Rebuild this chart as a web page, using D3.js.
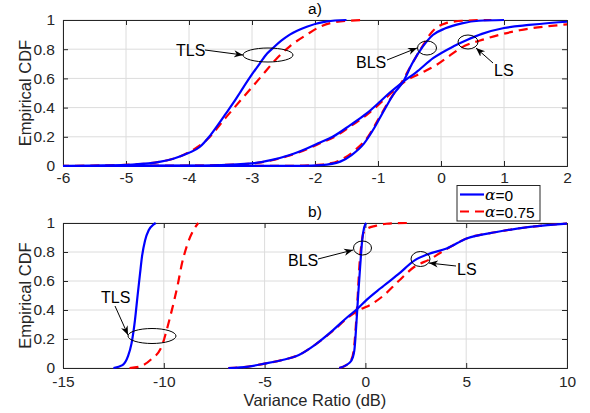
<!DOCTYPE html>
<html><head><meta charset="utf-8">
<script src="https://cdn.jsdelivr.net/npm/d3@7"></script>
<style>body{margin:0;background:#fff}svg{display:block;font-family:"Liberation Sans",Arial,Helvetica,sans-serif}</style>
</head><body><svg id="c" width="590" height="413"></svg>
<script>
// ---------- DATA ----------
const seriesNames = ["α=0", "α=0.75"];
const xTicksA = [-6, -5, -4, -3, -2, -1, 0, 1, 2];
const xTicksB = [-15, -10, -5, 0, 5, 10];
const yTicks = [0, 0.2, 0.4, 0.6, 0.8, 1];

// panel a) curves : [x (dB), CDF]
const aTLS0 = [[-5.8,0],[-4.9,0.01],[-4.45,0.03],[-4.25,0.05],[-4.0,0.09],[-3.83,0.13],[-3.68,0.2],[-3.56,0.27],[-3.43,0.35],[-3.30,0.43],[-3.18,0.51],[-3.02,0.615],[-2.88,0.7],[-2.76,0.77],[-2.65,0.815],[-2.53,0.86],[-2.40,0.90],[-2.13,0.954],[-1.81,0.99],[-1.5,1]];
const aTLS1 = [[-5.8,0],[-4.9,0.01],[-4.45,0.03],[-4.25,0.05],[-4.0,0.095],[-3.72,0.178],[-3.40,0.34],[-3.08,0.5],[-2.84,0.62],[-2.60,0.74],[-2.40,0.82],[-2.13,0.90],[-1.92,0.954],[-1.6,0.99],[-1.2,1]];
const aBLS0 = [[-7,0],[-2.2,0.001],[-1.9,0.006],[-1.6,0.03],[-1.42,0.075],[-1.22,0.155],[-1.06,0.26],[-0.90,0.384],[-0.74,0.5],[-0.60,0.577],[-0.46,0.70],[-0.29,0.817],[-0.13,0.897],[0.07,0.943],[0.33,0.977],[0.6,0.995],[1.0,1]];
const aBLS1 = [[-7,0],[-2.4,0.001],[-1.9,0.01],[-1.6,0.04],[-1.36,0.11],[-1.16,0.2],[-1.0,0.316],[-0.82,0.45],[-0.62,0.577],[-0.46,0.70],[-0.30,0.817],[-0.14,0.92],[0.07,0.977],[0.35,0.995],[0.8,1]];
const aLS0 = [[-7,0],[-4.0,0.002],[-3.0,0.018],[-2.7,0.04],[-2.4,0.075],[-2.13,0.12],[-1.95,0.155],[-1.72,0.2],[-1.44,0.28],[-1.18,0.36],[-0.97,0.44],[-0.82,0.5],[-0.60,0.577],[-0.40,0.64],[-0.12,0.74],[0.2,0.82],[0.42,0.865],[0.65,0.905],[1.0,0.945],[1.4,0.966],[2.0,0.988],[3.0,1]];
const aLS1 = [[-7,0],[-4.0,0.002],[-3.0,0.017],[-2.7,0.038],[-2.4,0.072],[-2.1,0.12],[-1.92,0.155],[-1.69,0.2],[-1.41,0.28],[-1.15,0.36],[-0.94,0.44],[-0.79,0.5],[-0.58,0.577],[-0.30,0.64],[-0.08,0.69],[0.12,0.75],[0.32,0.81],[0.7,0.87],[1.25,0.93],[1.9,0.966],[2.3,0.98],[3.5,1]];

// panel b) curves
const bTLS0 = [[-12.5,0],[-12.05,0.02],[-11.78,0.08],[-11.6,0.17],[-11.43,0.33],[-11.3,0.5],[-11.18,0.65],[-11.08,0.77],[-10.93,0.88],[-10.75,0.95],[-10.5,0.99],[-10.4,1]];
const bTLS1 = [[-11.7,0],[-11.2,0.01],[-10.65,0.057],[-10.1,0.15],[-9.9,0.24],[-9.69,0.35],[-9.3,0.58],[-9.1,0.72],[-8.86,0.84],[-8.53,0.95],[-8.29,1]];
const bBLS0 = [[-1.3,0],[-0.95,0.02],[-0.7,0.05],[-0.55,0.12],[-0.45,0.3],[-0.36,0.5],[-0.26,0.7],[-0.16,0.88],[-0.06,0.97],[0.04,1]];
const bBLS1 = [[-1.3,0],[-0.95,0.02],[-0.72,0.05],[-0.58,0.12],[-0.47,0.3],[-0.38,0.5],[-0.30,0.7],[-0.2,0.85],[-0.1,0.93],[0.1,0.962],[0.5,0.98],[1.05,0.995],[2.1,1]];
const bLS0 = [[-6.8,0],[-5.8,0.01],[-5.0,0.03],[-4.07,0.057],[-3.3,0.09],[-2.5,0.16],[-1.59,0.263],[-0.9,0.35],[-0.38,0.41],[0.06,0.47],[0.75,0.55],[1.62,0.645],[2.46,0.744],[3.1,0.785],[4.03,0.824],[5.02,0.893],[6.51,0.938],[8.16,0.973],[9.98,0.996],[10.5,1]];
const bLS1 = [[-6.8,0],[-5.8,0.01],[-5.0,0.03],[-4.07,0.057],[-3.3,0.09],[-2.5,0.16],[-1.55,0.263],[-0.85,0.35],[-0.3,0.40],[0.3,0.44],[0.9,0.5],[1.65,0.6],[2.45,0.70],[3.2,0.75],[3.9,0.81],[5.02,0.893],[6.51,0.938],[8.16,0.973],[9.98,0.996],[10.5,1]];

// ---------- DRAW ----------
const svg = d3.select("#c");
const colors = ["#0000ff", "#ff0000"];
const dashes = [null, "9,6"];
const frame = "#262626";

function panel(o) {
  const x = d3.scaleLinear().domain(o.xd).range([63, 567]);
  const y = d3.scaleLinear().domain([0, 1]).range([o.bottom, o.top]);
  const g = svg.append("g");
  const cid = "clip" + o.id;
  svg.append("clipPath").attr("id", cid).append("rect")
    .attr("x", 63).attr("y", o.top - 2).attr("width", 504).attr("height", o.bottom - o.top + 4);
  // grid
  g.selectAll(".gx").data(o.ticks).enter().append("line")
    .attr("x1", d => x(d)).attr("x2", d => x(d)).attr("y1", o.top).attr("y2", o.bottom)
    .attr("stroke", "#dcdcdc").attr("stroke-width", 1);
  g.selectAll(".gy").data(yTicks).enter().append("line")
    .attr("y1", d => y(d)).attr("y2", d => y(d)).attr("x1", 63).attr("x2", 567)
    .attr("stroke", "#dcdcdc").attr("stroke-width", 1);
  // axes
  const xb = d3.axisBottom(x).tickValues(o.ticks).tickSize(-5).tickPadding(o.pad).tickFormat(d3.format("d"));
  const xt = d3.axisTop(x).tickValues(o.ticks).tickSize(-5).tickFormat("");
  const yl = d3.axisLeft(y).tickValues(yTicks).tickSize(-5).tickPadding(8).tickFormat(d => d === 0 || d === 1 ? d : d.toFixed(1));
  const yr = d3.axisRight(y).tickValues(yTicks).tickSize(-5).tickFormat("");
  const ax = [
    g.append("g").attr("transform", `translate(0,${o.bottom})`).call(xb),
    g.append("g").attr("transform", `translate(0,${o.top})`).call(xt),
    g.append("g").attr("transform", `translate(63,0)`).call(yl),
    g.append("g").attr("transform", `translate(567,0)`).call(yr)
  ];
  ax.forEach(a => {
    a.select(".domain").attr("stroke", frame).attr("stroke-width", 1);
    a.selectAll(".tick line").attr("stroke", frame);
    a.selectAll("text").attr("fill", "#262626").style("font-size", "15.5px")
      .style("font-family", '"Liberation Sans", Arial, sans-serif');
  });
  ax[0].selectAll("text").text(d => d < 0 ? "-" + Math.abs(d) : d);
  // curves
  const line = d3.line().x(d => x(d[0])).y(d => y(d[1])).curve(d3.curveMonotoneX);
  const cg = g.append("g").attr("clip-path", `url(#${cid})`);
  o.curves.forEach(c => {
    cg.append("path").datum(c.data).attr("d", line).attr("fill", "none")
      .attr("stroke", colors[c.s]).attr("stroke-width", 2.2)
      .attr("stroke-dasharray", dashes[c.s]);
  });
  // y label
  g.append("text").attr("transform", `translate(25,${(o.top + o.bottom) / 2}) rotate(-90)`)
    .attr("text-anchor", "middle").attr("dominant-baseline", "central")
    .style("font-size", "16.5px").attr("fill", "#262626").text("Empirical CDF");
  // panel title
  g.append("text").attr("x", 315).attr("y", o.top - 6).attr("text-anchor", "middle")
    .style("font-size", "15.5px").attr("fill", "#000").text(o.title);
  // annotations
  o.notes.forEach(n => {
    g.append("ellipse").attr("cx", n.cx).attr("cy", n.cy).attr("rx", n.rx).attr("ry", n.ry)
      .attr("fill", "none").attr("stroke", "#000").attr("stroke-width", 1);
    g.append("line").attr("x1", n.a[0]).attr("y1", n.a[1]).attr("x2", n.a[2]).attr("y2", n.a[3])
      .attr("stroke", "#000").attr("stroke-width", 1).attr("marker-end", "url(#arr)");
    g.append("text").attr("x", n.tx).attr("y", n.ty).attr("text-anchor", n.anchor || "start")
      .attr("dominant-baseline", "central").style("font-size", "16px").attr("fill", "#000").text(n.label);
  });
}

svg.append("defs").append("marker").attr("id", "arr").attr("viewBox", "0 0 10 10")
  .attr("refX", 10).attr("refY", 5).attr("markerWidth", 9).attr("markerHeight", 9)
  .attr("markerUnits", "userSpaceOnUse").attr("orient", "auto")
  .append("path").attr("d", "M0,1 L10,5 L0,9 L3,5 Z").attr("fill", "#000");

panel({
  id: "a", xd: [-6, 2], top: 20, bottom: 166, ticks: xTicksA, title: "a)", pad: 6,
  curves: [{data: aTLS1, s: 1}, {data: aBLS1, s: 1}, {data: aLS1, s: 1},
           {data: aTLS0, s: 0}, {data: aBLS0, s: 0}, {data: aLS0, s: 0}],
  notes: [
    {label: "TLS", tx: 176, ty: 50, cx: 268, cy: 55, rx: 25, ry: 7, a: [205, 50, 243, 55]},
    {label: "BLS", tx: 356, ty: 62, cx: 427, cy: 48, rx: 9.5, ry: 7, a: [387, 60, 417, 48]},
    {label: "LS", tx: 494, ty: 70, cx: 468, cy: 42, rx: 10, ry: 7, a: [493, 63, 476, 48]}
  ]
});
panel({
  id: "b", xd: [-15, 10], top: 223, bottom: 368, ticks: xTicksB, title: "b)", pad: 8,
  curves: [{data: bTLS1, s: 1}, {data: bBLS1, s: 1}, {data: bLS1, s: 1},
           {data: bTLS0, s: 0}, {data: bBLS0, s: 0}, {data: bLS0, s: 0}],
  notes: [
    {label: "TLS", tx: 101, ty: 297, cx: 152, cy: 336, rx: 24, ry: 7.5, a: [115, 306, 128, 335]},
    {label: "BLS", tx: 288, ty: 260, cx: 362.5, cy: 248, rx: 9, ry: 7, a: [318, 259, 353, 250]},
    {label: "LS", tx: 457, ty: 269, cx: 420.5, cy: 259, rx: 9.5, ry: 7.5, a: [456, 266, 429, 263]}
  ]
});

// x label
svg.append("text").attr("x", 315).attr("y", 406).attr("text-anchor", "middle")
  .style("font-size", "16.5px").attr("fill", "#262626").text("Variance Ratio (dB)");

// legend
const lg = svg.append("g");
lg.append("rect").attr("x", 457).attr("y", 185.5).attr("width", 83).attr("height", 35.5)
  .attr("fill", "#fff").attr("stroke", frame).attr("stroke-width", 1);
seriesNames.forEach((nm, i) => {
  const yy = 194.5 + i * 17;
  lg.append("line").attr("x1", 460).attr("x2", 484).attr("y1", yy).attr("y2", yy)
    .attr("stroke", colors[i]).attr("stroke-width", 2.2).attr("stroke-dasharray", dashes[i]);
  const t = lg.append("text").attr("x", 485).attr("y", yy).attr("dominant-baseline", "central")
    .style("font-size", "15.5px").attr("fill", "#000");
  t.append("tspan").style("font-family", '"DejaVu Serif", "Liberation Serif", serif').style("font-style", "italic").text(nm[0]);
  t.append("tspan").text(nm.slice(1));
});
</script></body></html>
